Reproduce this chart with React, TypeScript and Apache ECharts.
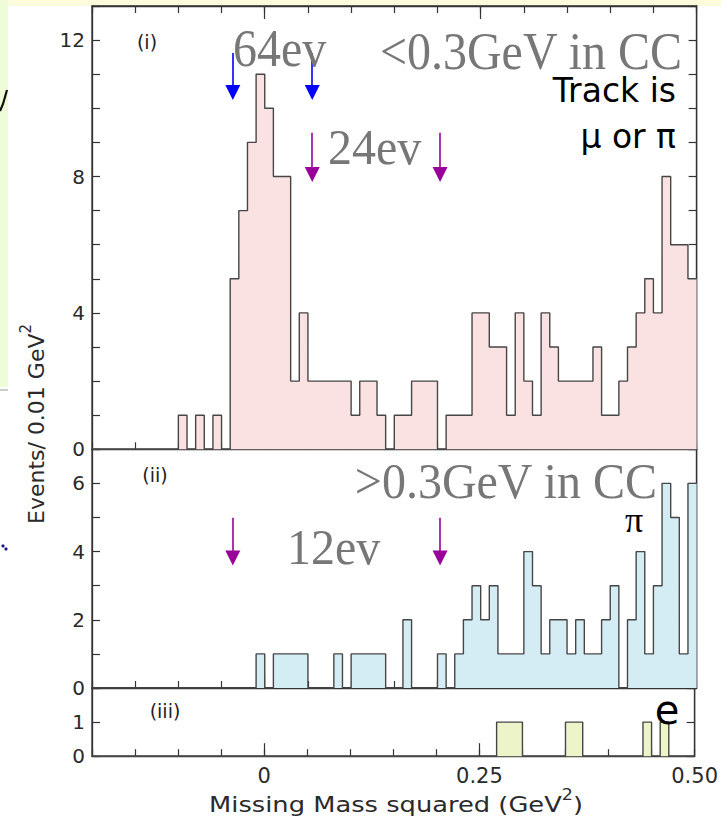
import React, { useEffect, useRef } from "react";
import * as echarts from "echarts";

// ---- Data -------------------------------------------------------------
// Histogram bins: 0.01 GeV^2 wide, starting at -0.20 GeV^2 (70 bins up to 0.50)
const BIN_START = -0.2;
const BIN_WIDTH = 0.01;

// (i) <0.3 GeV in CC, track is mu or pi
const countsLowCC = [
  0, 0, 0, 0, 0, 0, 0, 0, 0, 0,
  1, 0, 1, 0, 1, 0, 5, 7, 9, 11,
  10, 8, 8, 2, 4, 2, 2, 2, 2, 2,
  1, 2, 2, 1, 0, 1, 1, 2, 2, 2,
  0, 1, 1, 1, 4, 4, 3, 3, 1, 4,
  2, 1, 4, 3, 2, 2, 2, 2, 3, 1,
  1, 2, 3, 4, 5, 4, 8, 6, 6, 5,
];

// (ii) >0.3 GeV in CC, pi
const countsHighCC = [
  0, 0, 0, 0, 0, 0, 0, 0, 0, 0,
  0, 0, 0, 0, 0, 0, 0, 0, 0, 1,
  0, 1, 1, 1, 1, 0, 0, 0, 1, 0,
  1, 1, 1, 1, 0, 0, 2, 0, 0, 0,
  1, 0, 1, 2, 3, 2, 3, 1, 1, 1,
  4, 3, 1, 2, 2, 1, 2, 1, 1, 2,
  3, 0, 2, 4, 1, 3, 6, 5, 1, 6,
];

// (iii) e
const countsElectron = [
  0, 0, 0, 0, 0, 0, 0, 0, 0, 0,
  0, 0, 0, 0, 0, 0, 0, 0, 0, 0,
  0, 0, 0, 0, 0, 0, 0, 0, 0, 0,
  0, 0, 0, 0, 0, 0, 0, 0, 0, 0,
  0, 0, 0, 0, 0, 0, 0, 1, 1, 1,
  0, 0, 0, 0, 0, 1, 1, 0, 0, 0,
  0, 0, 0, 0, 1, 0, 1, 0, 0, 0,
];

const X_MIN = -0.2;
const X_MAX = 0.5;
const xTickValues = [-0.2, -0.15, -0.1, -0.05, 0, 0.05, 0.1, 0.15, 0.2, 0.25, 0.3, 0.35, 0.4, 0.45, 0.5];
const xMajorTickValues = [0, 0.25];
const xLabelValues = [0, 0.25, 0.5];
const xLabelTexts = ["0", "0.25", "0.50"];

const yMaxes = [13, 7, 2];
const yTickValues = [
  [0, 1, 2, 3, 4, 5, 6, 7, 8, 9, 10, 11, 12, 13],
  [0, 1, 2, 3, 4, 5, 6, 7],
  [0, 1, 2],
];
const yLabelValues = [
  [0, 4, 8, 12],
  [0, 2, 4, 6],
  [0, 1],
];

// Cut arrows (GeV^2) and their vertical extents (events)
const blueArrowX = [-0.037, 0.055];
const blueArrowY = [11.62, 10.46];
const purpleArrowTopX = [0.055, 0.203];
const purpleArrowTopY = [9.28, 8.06];
const purpleArrowMidX = [-0.037, 0.203];
const purpleArrowMidY = [4.99, 3.81];

// ---- Layout / style ---------------------------------------------------
const LEFT = 92;
const PLOT_W = 604.6;
const UNIT = 34.1;
const TOP = 6;
const FRAME = "#333333";
const OUTLINE = "#464646";
const FILLS = ["#f9e2e1", "#d4edf5", "#eef4c9"];
const GRAY_TEXT = "#777777";
const SANS = "DejaVu Sans";
const SERIF = "Liberation Serif";

function stepData(counts: number[]) {
  const pts: number[][] = counts.map((c, i) => [
    Math.round((BIN_START + i * BIN_WIDTH) * 100) / 100,
    c,
  ]);
  pts.push([
    Math.round((BIN_START + counts.length * BIN_WIDTH) * 100) / 100,
    counts[counts.length - 1],
  ]);
  return pts;
}

function arrowLines(xs: number[], ys: number[], color: string) {
  const ls = { color, width: 1.6, type: "solid" };
  return xs.map((x) => [
    { coord: [x, ys[0]], lineStyle: ls, itemStyle: { color } },
    { coord: [x, ys[1]], lineStyle: ls, itemStyle: { color } },
  ]);
}

export default function App() {
  const ref = useRef<HTMLDivElement>(null);

  useEffect(() => {
    document.body.style.margin = "0";
    if (!ref.current) return;
    const chart = echarts.init(ref.current, undefined, { renderer: "svg" });

    const h0 = yMaxes[0] * UNIT;
    const h1 = yMaxes[1] * UNIT;
    const h2 = yMaxes[2] * UNIT;
    const tops = [TOP, TOP + h0, TOP + h0 + h1];
    const heights = [h0, h1, h2];

    const grids = tops.map((t, i) => ({
      left: LEFT,
      top: t,
      width: PLOT_W,
      height: heights[i],
      show: true,
      borderColor: FRAME,
      borderWidth: 1.3,
      backgroundColor: "#ffffff",
      containLabel: false,
    }));

    const xAxisBase = (gridIndex: number, position: string, major: boolean, labels: boolean) => ({
      type: "value",
      gridIndex,
      position,
      min: X_MIN,
      max: X_MAX,
      axisLine: { show: !major, onZero: false, lineStyle: { color: FRAME, width: 1.3 } },
      axisTick: {
        show: true,
        inside: true,
        length: major ? 13 : 7,
        customValues: major ? xMajorTickValues : xTickValues,
        lineStyle: { color: FRAME, width: 1.2 },
      },
      axisLabel: labels
        ? {
            show: true,
            customValues: xLabelValues,
            formatter: (v: number) => {
              const k = xLabelValues.findIndex((l) => Math.abs(l - v) < 1e-6);
              return k >= 0 ? xLabelTexts[k] : "";
            },
            fontFamily: SANS,
            fontSize: 21,
            color: "#2a2a2a",
            margin: 9,
          }
        : { show: false },
      splitLine: { show: false },
    });

    const xAxes = [
      xAxisBase(0, "bottom", false, false),
      xAxisBase(0, "bottom", true, false),
      xAxisBase(0, "top", false, false),
      xAxisBase(0, "top", true, false),
      xAxisBase(1, "bottom", false, false),
      xAxisBase(1, "bottom", true, false),
      xAxisBase(2, "bottom", false, true),
      xAxisBase(2, "bottom", true, false),
    ];

    const yAxisBase = (gridIndex: number, position: string, labels: boolean) => ({
      type: "value",
      gridIndex,
      position,
      min: 0,
      max: yMaxes[gridIndex],
      axisLine: { show: true, onZero: false, lineStyle: { color: FRAME, width: 1.3 } },
      axisTick: {
        show: true,
        inside: true,
        length: 8,
        customValues: yTickValues[gridIndex],
        lineStyle: { color: FRAME, width: 1.2 },
      },
      axisLabel: labels
        ? {
            show: true,
            customValues: yLabelValues[gridIndex],
            fontFamily: SANS,
            fontSize: 20,
            color: "#2a2a2a",
            margin: 7,
          }
        : { show: false },
      splitLine: { show: false },
    });

    const yAxes = [
      yAxisBase(0, "left", true),
      yAxisBase(0, "right", false),
      yAxisBase(1, "left", true),
      yAxisBase(1, "right", false),
      yAxisBase(2, "left", true),
      yAxisBase(2, "right", false),
    ];

    const histSeries = (data: number[], xIdx: number, yIdx: number, fill: string, markLineData: any[] | null) => ({
      type: "line",
      xAxisIndex: xIdx,
      yAxisIndex: yIdx,
      step: "end",
      data: stepData(data),
      symbol: "none",
      lineStyle: { color: OUTLINE, width: 1.4 },
      areaStyle: { color: fill, opacity: 1 },
      silent: true,
      z: 1,
      markLine: markLineData
        ? {
            silent: true,
            symbol: ["none", "triangle"],
            symbolSize: [15, 15],
            label: { show: false },
            lineStyle: { type: "solid" },
            data: markLineData,
          }
        : undefined,
    });

    const txt = (
      text: string,
      x: number,
      y: number,
      opts: { font?: string; size: number; color?: string; align?: string; scaleX?: number; scaleY?: number; rotation?: number; rich?: any; lineHeight?: number }
    ) => ({
      type: "text",
      x,
      y,
      scaleX: opts.scaleX ?? 1,
      scaleY: opts.scaleY ?? 1,
      rotation: opts.rotation ?? 0,
      z: 100,
      silent: true,
      style: {
        text,
        x: 0,
        y: 0,
        fill: opts.color ?? "#000",
        fontFamily: opts.font ?? SANS,
        fontSize: opts.size,
        align: opts.align ?? "left",
        verticalAlign: "middle",
        lineHeight: opts.lineHeight,
        rich: opts.rich,
      },
    });

    const supRich = {
      sup: { fontSize: 15, fontFamily: SANS, fill: "#2a2a2a", verticalAlign: "top", lineHeight: 16 },
    };

    chart.setOption({
      animation: false,
      textStyle: { fontFamily: SANS },
      grid: grids,
      xAxis: xAxes,
      yAxis: yAxes,
      series: [
        histSeries(countsLowCC, 0, 0, FILLS[0], [
          ...arrowLines(blueArrowX, blueArrowY, "#0000ff"),
          ...arrowLines(purpleArrowTopX, purpleArrowTopY, "#990099"),
        ]),
        histSeries(countsHighCC, 4, 2, FILLS[1], arrowLines(purpleArrowMidX, purpleArrowMidY, "#990099")),
        histSeries(countsElectron, 6, 4, FILLS[2], null),
      ],
      graphic: [
        // slide background remnants
        { type: "rect", shape: { x: 0, y: 0, width: 721, height: TOP }, style: { fill: "#fcfcdc" }, z: -1, silent: true },
        { type: "rect", shape: { x: 0, y: 0, width: 8, height: 387 }, style: { fill: "#eefcd8" }, z: -1, silent: true },
        { type: "line", shape: { x1: 0, y1: 390, x2: 8, y2: 390 }, style: { stroke: "#9a9a9a", lineWidth: 1 }, silent: true },
        { type: "polyline", shape: { points: [[0, 111], [3, 104], [5, 97], [7, 90]] }, style: { stroke: "#111", lineWidth: 2.2, fill: null }, silent: true },
        { type: "circle", shape: { cx: 3, cy: 546, r: 1.6 }, style: { fill: "#1a1a8a" }, silent: true },
        { type: "circle", shape: { cx: 6, cy: 549, r: 1.6 }, style: { fill: "#1a1a8a" }, silent: true },

        // panel tags
        txt("(i)", 147, 42, { size: 19, align: "center", color: "#222" }),
        txt("(ii)", 155, 475, { size: 19, align: "center", color: "#222" }),
        txt("(iii)", 165, 711, { size: 19, align: "center", color: "#222" }),

        // big gray annotations
        txt("64ev", 233, 48, { font: SERIF, size: 48, color: GRAY_TEXT, scaleY: 1.1 }),
        txt("<0.3GeV in CC", 682, 51, { font: SERIF, size: 48, color: GRAY_TEXT, align: "right", scaleY: 1.1 }),
        txt("24ev", 328, 147, { font: SERIF, size: 48, color: GRAY_TEXT, scaleY: 1.05 }),
        txt(">0.3GeV in CC", 657, 481, { font: SERIF, size: 48, color: GRAY_TEXT, align: "right", scaleY: 1.05 }),
        txt("12ev", 287, 547, { font: SERIF, size: 48, color: GRAY_TEXT, scaleY: 1.05 }),

        // black labels
        txt("Track is", 676, 90, { size: 33, align: "right" }),
        txt("μ or π", 676, 136, { size: 33, align: "right" }),
        txt("π", 634, 520, { font: SERIF, size: 36, align: "center" }),
        txt("e", 667, 710, { size: 40, align: "center" }),

        // axis titles
        txt("Missing Mass squared (GeV{sup|2})", 396, 805, {
          size: 22,
          align: "center",
          color: "#2a2a2a",
          scaleX: 1.17,
          lineHeight: 36,
          rich: supRich,
        }),
        txt("Events/ 0.01 GeV{sup|2}", 36, 424, {
          size: 22,
          align: "center",
          color: "#2a2a2a",
          rotation: Math.PI / 2,
          lineHeight: 36,
          rich: supRich,
        }),
      ],
    });

    return () => chart.dispose();
  }, []);

  return <div ref={ref} style={{ width: 721, height: 822, background: "#ffffff" }} />;
}
